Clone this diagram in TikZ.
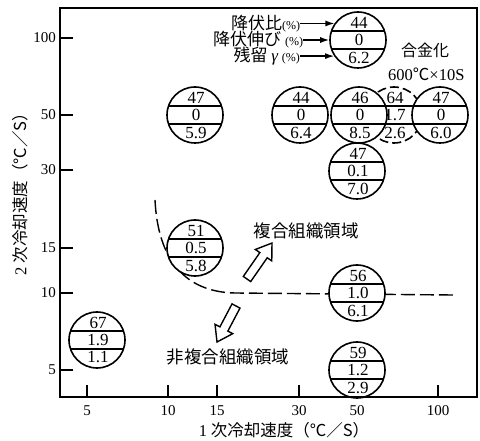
\documentclass[tikz,border=0pt]{standalone}
\usepackage{fontspec}
\setmainfont{Liberation Serif}
\newfontfamily\jp{Noto Sans CJK JP}
\usetikzlibrary{arrows.meta}

\tikzset{
 frame/.style={line width=1.8pt},
 dc/.style={circle, draw, line width=1.6pt, fill=white, minimum size=56pt, inner sep=0pt},
 dcd/.style={dc, dash pattern=on 9pt off 4pt},
 chord/.style={line width=1.4pt},
 num/.style={inner sep=0pt, font=\fontsize{17}{17}\selectfont},
 tickmark/.style={line width=1.5pt},
 ticklab/.style={font=\fontsize{15}{15}\selectfont, inner sep=0pt},
 jplab/.style={font=\jp\fontsize{16}{16}\selectfont, inner sep=0pt},
 leglab/.style={font=\jp\fontsize{17}{17}\selectfont, inner sep=0pt, anchor=east},
 region/.style={font=\jp\fontsize{17.5}{17.5}\selectfont, inner sep=0pt},
 bound/.style={line width=1.4pt, dash pattern=on 14pt off 5pt},
 hollow/.style={line width=1.4pt, fill=white, line join=miter},
 legarrow/.style={line width=1.3pt, -{Latex[length=9pt,width=6pt]}},
}

\newcommand\DataCirc[7][dc]{%
 \node[#1] (#2) at (#3,#4) {};
 \draw[chord] ([shift={(-26.5,-9)}]#2.center) -- ++(53,0);
 \draw[chord] ([shift={(-26.5,9)}]#2.center) -- ++(53,0);
 \node[num] (#2a) at ([shift={(1,-17.5)}]#2.center) {#5};
 \node[num] (#2b) at ([shift={(1,0)}]#2.center) {#6};
 \node[num] (#2c) at ([shift={(1,17.5)}]#2.center) {#7};
}

\begin{document}
\begin{tikzpicture}[x=1pt,y=-1pt]
\useasboundingbox (0,0) rectangle (480,441);

% y ticks and labels
\foreach \yy/\lab in {38/100,115/50,170/30,248/15,293/10,370/5}{
 \draw[tickmark] (60,\yy) -- (73,\yy);
 \node[ticklab, anchor=east] (yt\lab) at (56,\yy) {\lab};
}
% x ticks and labels
\foreach \xx/\lab in {87/5,168/10,217/15,299/30,357/50,438/100}{
 \draw[tickmark] (\xx,397) -- (\xx,385);
 \node[ticklab] (xt\lab) at (\xx,411) {\lab};
}

% boundary curve
\draw[bound] (155,200) .. controls (158,260) and (185,292) .. (235,293) -- (453,295);

% circles
\DataCirc{cleg}{358}{40}{44}{0}{6.2}
\DataCirc{c1}{195}{115}{47}{0}{5.9}
\DataCirc{c2}{300}{115}{44}{0}{6.4}
\DataCirc[dcd]{c3}{394}{115}{64}{1.7}{2.6}
\DataCirc{c4}{359}{115}{46}{0}{8.5}
\DataCirc{c5}{440}{115}{47}{0}{6.0}
\DataCirc{c6}{357}{171}{47}{0.1}{7.0}
\DataCirc{c7}{195}{248}{51}{0.5}{5.8}
\DataCirc{c8}{357}{293}{56}{1.0}{6.1}
\DataCirc{c9}{357}{370}{59}{1.2}{2.9}
\DataCirc{c10}{97}{340}{67}{1.9}{1.1}

% frame
\draw[frame] (60,8) rectangle (477,397);

% legend
\node[leglab] (l1) at ([xshift=-34pt]cleg.145.2) {降伏比{\rmfamily\fontsize{12}{12}\selectfont(\%)}};
\node[leglab] (l2) at ([xshift=-26pt]cleg.west) {降伏伸び {\rmfamily\fontsize{12}{12}\selectfont(\%)}};
\node[leglab] (l3) at ([xshift=-34pt]cleg.214.8) {残留 {\rmfamily\itshape γ} {\rmfamily\fontsize{12}{12}\selectfont(\%)}};
\draw[legarrow] (l1.east) -- (cleg.145.2);
\draw[legarrow] (l2.east) -- (cleg.west);
\draw[legarrow] (l3.east) -- (cleg.214.8);

\node[jplab, font=\jp\fontsize{16}{16}\selectfont] (alloy) at (425,50) {合金化};
\node[inner sep=0pt, anchor=west, font=\fontsize{16.5}{16.5}\selectfont] (cond) at (388,74) {600{\jp ℃}×10S};

% regions
\node[region] (comp) at (306,231) {複合組織領域};
\node[region] (noncomp) at (228,357) {非複合組織領域};

% hollow arrows
\begin{scope}[shift={(247,279)},rotate=55.2]
 \draw[hollow] (0,-4.5) -- (29,-4.5) -- (29,-10) -- (43.8,0) -- (29,10) -- (29,4.5) -- (0,4.5) -- cycle;
\end{scope}
\begin{scope}[shift={(236,306)},rotate=242.2]
 \draw[hollow] (0,-4.5) -- (26,-4.5) -- (26,-10) -- (40.7,0) -- (26,10) -- (26,4.5) -- (0,4.5) -- cycle;
\end{scope}

% axis labels
\node[jplab, font=\jp\fontsize{16.5}{16.5}\selectfont] (xlab) at (284,430) {{\rmfamily 1} 次冷却速度（℃／S）};
\node[jplab, font=\jp\fontsize{16.5}{16.5}\selectfont, rotate=90] (ylab) at (20,190) {{\rmfamily 2} 次冷却速度（℃／S）};
\end{tikzpicture}
\end{document}
